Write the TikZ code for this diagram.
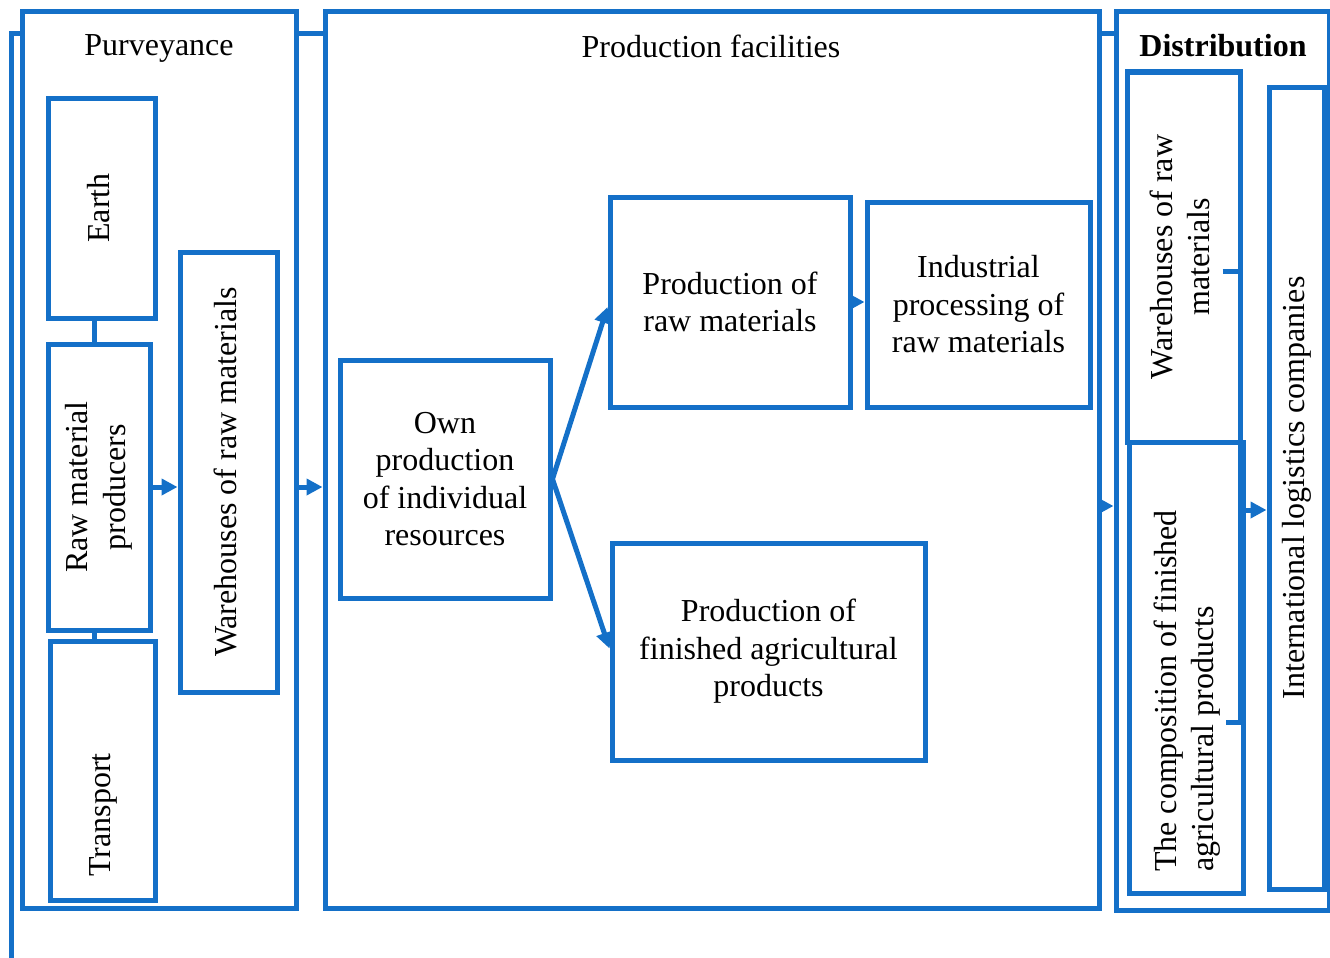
\documentclass[tikz,border=0pt]{standalone}
\usepackage{fontspec}
\setmainfont{Liberation Serif}
\usepackage{graphicx}
\usepackage{tikz}
\usetikzlibrary{arrows.meta}
\definecolor{boxblue}{RGB}{20,112,200}
\newcommand{\vlabel}[1]{\rotatebox{90}{\begin{tabular}{@{}c@{}}#1\end{tabular}}}

\begin{document}
\begin{tikzpicture}[x=1pt,y=-1pt]
        \tikzstyle{b} = [rectangle, draw=boxblue, line width=5pt, inner sep=0pt, align=center, font=\fontsize{32}{37.5}\selectfont]
        \tikzstyle{t} = [align=center, font=\fontsize{32}{37.5}\selectfont]
        \tikzstyle{l} = [draw=boxblue, line width=5pt]
        \tikzstyle{a} = [l, -{Triangle[length=16pt,width=16pt]}]
        \useasboundingbox (0,0) rectangle (1330,958);

        \node[b, minimum width=274, minimum height=896](purv) at (159,460){};
        \node[b, minimum width=774, minimum height=896](prod) at (712,460){};
        \node[b, minimum width=213, minimum height=898](dist) at (1222.5,461){};
        \node[t](purvt) at (159,48){Purveyance};
        \node[t](prodt) at (711,46){Production facilities};
        \node[t](distt) at (1223,46){\textbf{Distribution}};

        \node[b, minimum width=107, minimum height=220](earth) at (101.5,208){\vlabel{Earth}};
        \node[b, minimum width=102, minimum height=286](rmp) at (99,487){\vlabel{Raw material\\producers}};
        \node[b, minimum width=105, minimum height=259](trans) at (102.5,770.5){};
        \node[t, rotate=90](transt) at (103,815){Transport};
        \node[b, minimum width=97, minimum height=440](wh) at (228.5,472){\vlabel{Warehouses of raw materials}};

        \node[b, minimum width=210, minimum height=238](own) at (445,479){Own\\production\\of individual\\resources};
        \node[b, minimum width=240, minimum height=210](raw) at (730,302){Production of\\raw materials};
        \node[b, minimum width=223, minimum height=205](ind) at (978.5,304.5){Industrial\\processing of\\raw materials};
        \node[b, minimum width=313, minimum height=217](fin) at (768.5,651.5){Production of\\finished agricultural\\products};

        \node[b, minimum width=113, minimum height=370](dwh) at (1183.5,257){\vlabel{Warehouses of raw\\materials}};
        \node[b, minimum width=114, minimum height=451](comp) at (1186,667.5){};
        \node[t, rotate=90, align=left](compt) at (1187,691){The composition of finished\\agricultural products};
        \node[b, minimum width=55, minimum height=802](intl) at (1296.5,488){\vlabel{International logistics companies}};

        \draw[l]([yshift=-24pt]purv.north west) -- ++(-8,0) -- ++(0,930);
        \draw[l]([yshift=-24pt]purv.north east) -- ([yshift=-24pt]purv.north east -| prod.west);
        \draw[l]([yshift=-24pt]prod.north east) -- ([yshift=-24pt]prod.north east -| dist.west);
        \draw[l]([xshift=-7pt]earth.south) -- ([xshift=-7pt]earth.south |- rmp.north);
        \draw[l]([xshift=-5pt]rmp.south) -- ([xshift=-5pt]rmp.south |- trans.north);
        \draw[l]([shift={(-20pt,-14pt)}]dwh.east) -- ([shift={(-2.5pt,-14pt)}]dwh.east) |- ([shift={(-20pt,-54.5pt)}]comp.east);

        \draw[a](rmp.east) -- (rmp.east -| wh.west);
        \draw[a](purv.east |- rmp.east) -- (prod.west |- rmp.east);
        \draw[a](own.east) -- ([yshift=-5pt]raw.west);
        \draw[a](own.east) -- ([yshift=3pt]fin.west);
        \draw[a](raw.east) -- (raw.east -| ind.west);
        \draw[a]([yshift=-46pt]prod.east) -- ([yshift=-46pt]prod.east -| dist.west);
        \draw[a](comp.east |- 0,510) -- (intl.west |- 0,510);
    \end{tikzpicture}
\end{document}
